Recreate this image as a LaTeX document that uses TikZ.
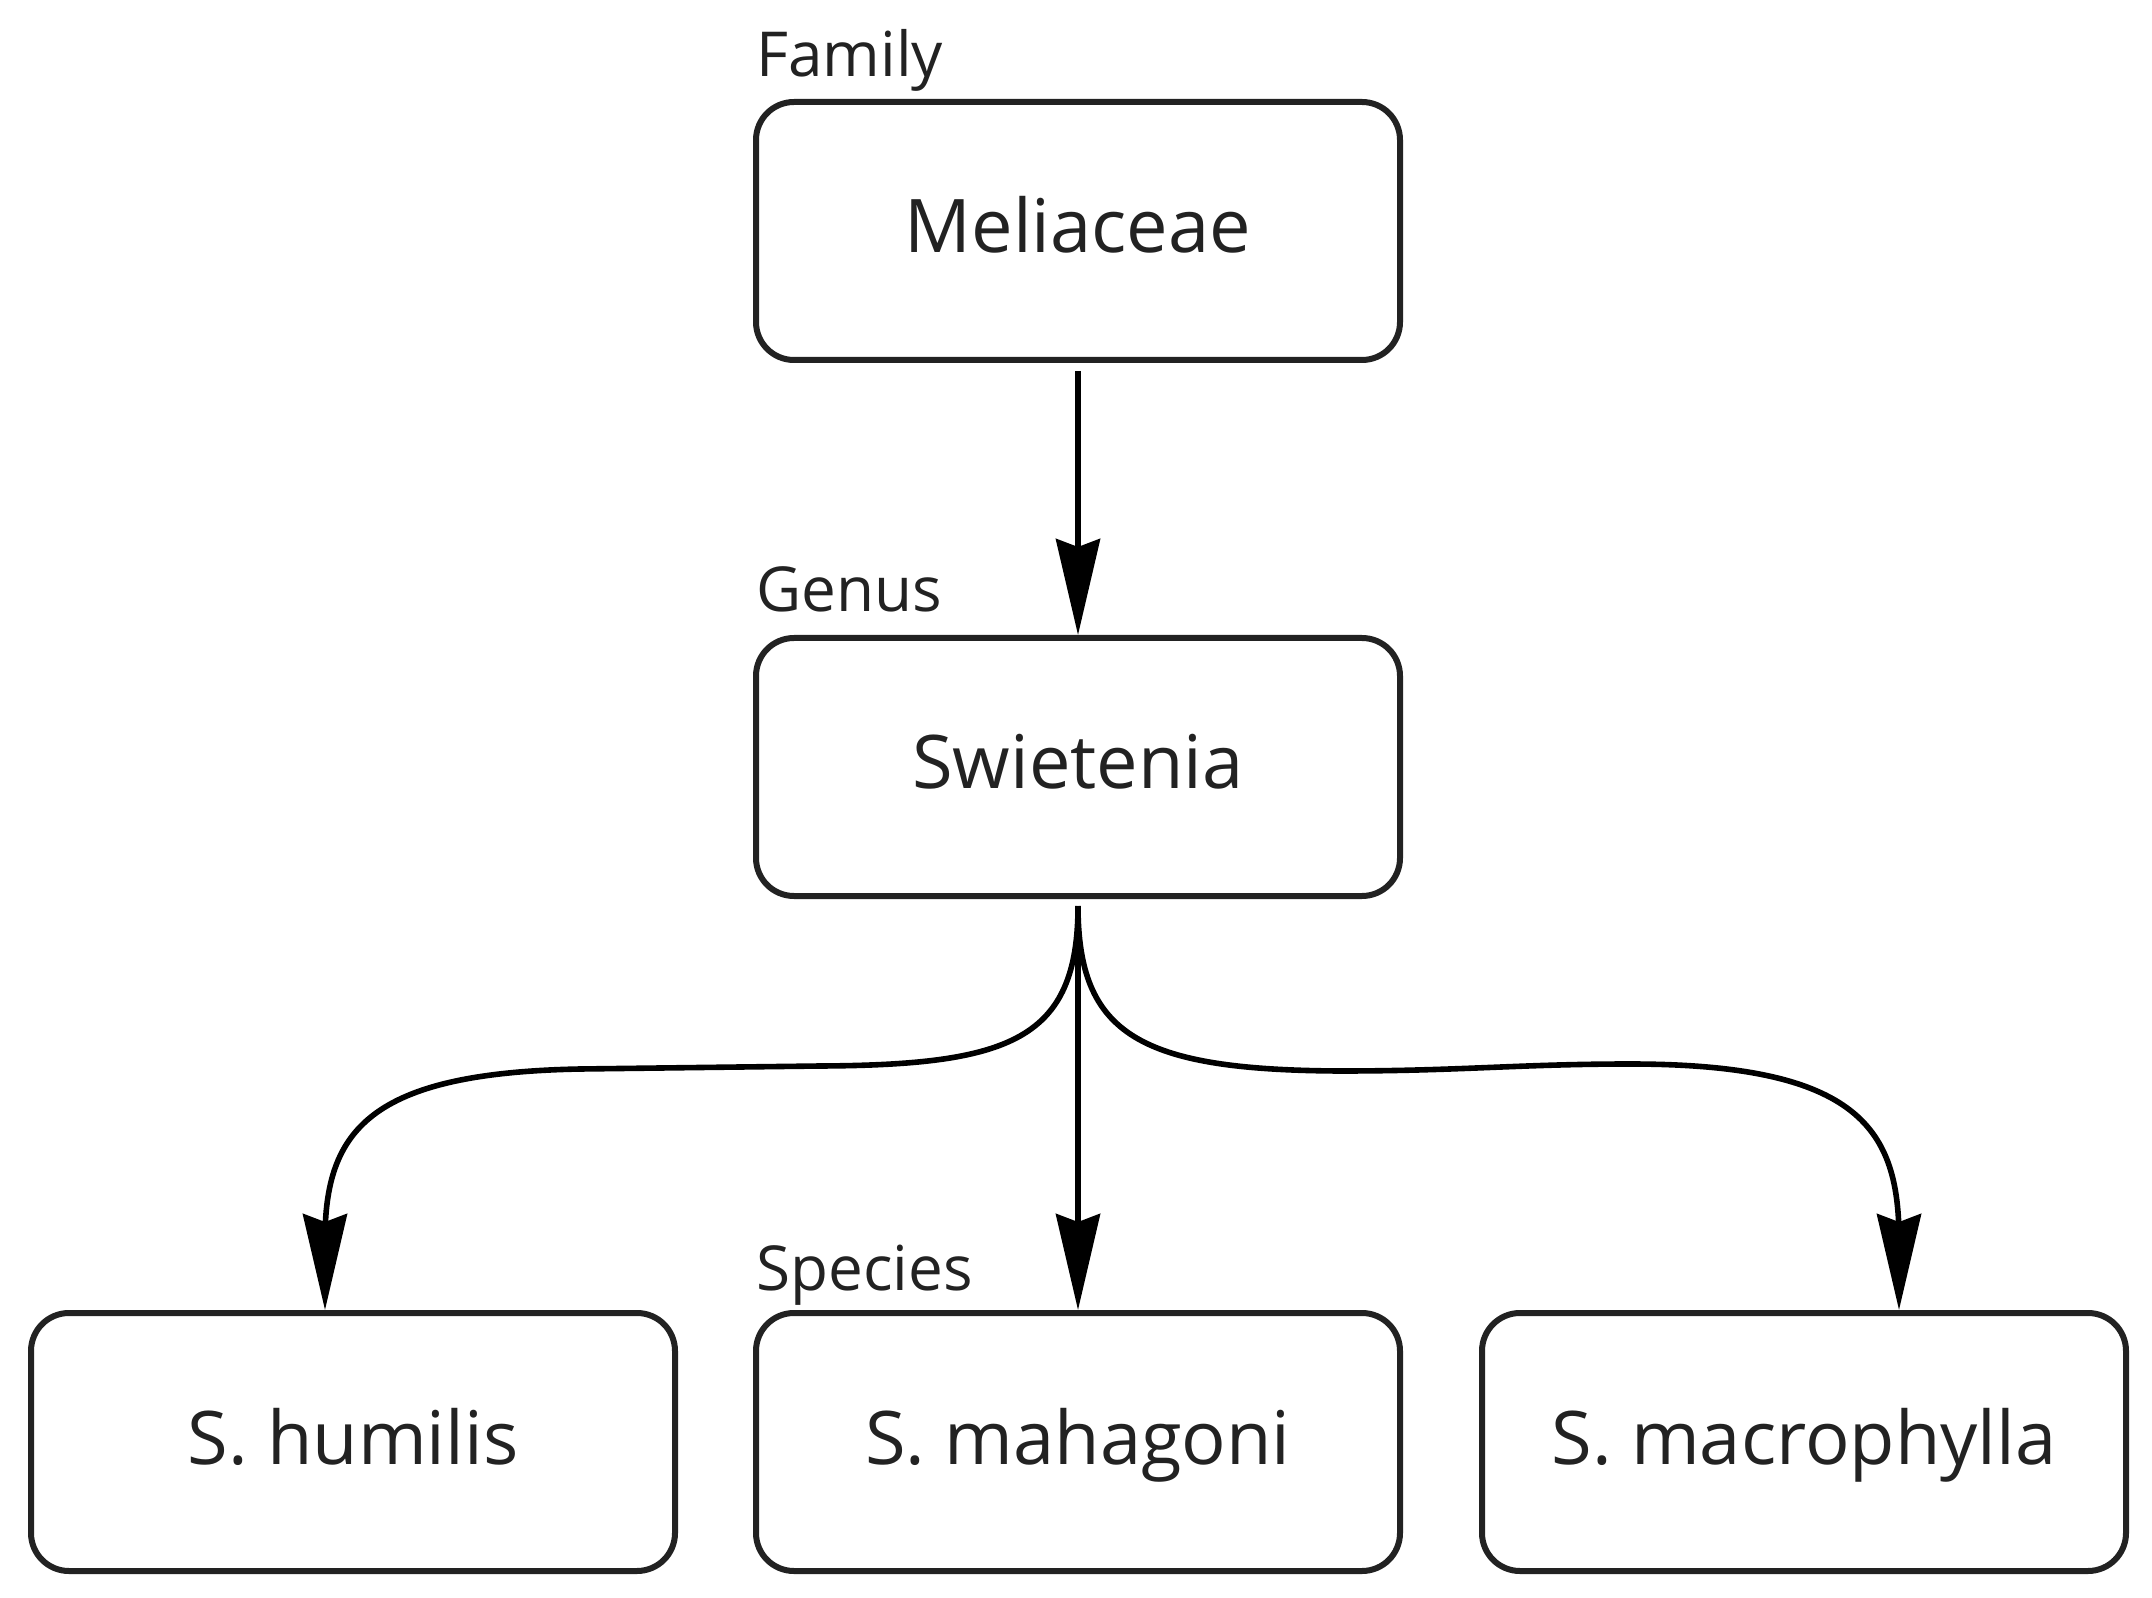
\documentclass[tikz,border=0pt]{standalone}
\usepackage{fontspec}
\setmainfont{Open Sans}
\usetikzlibrary{arrows.meta, calc}
\definecolor{inkgray}{HTML}{222222}

\begin{document}
\begin{tikzpicture}[
    x=0.5pt, y=-0.5pt,
    taxon/.style={draw=inkgray, line width=3pt, rectangle, rounded corners=19pt, minimum width=322pt, minimum height=129pt, align=center, text=inkgray, font=\fontsize{37}{44}\selectfont, text height=30pt, text depth=8pt},
    rank/.style={anchor=base west, inner sep=0pt, text=inkgray, font=\fontsize{31}{37}\selectfont},
    link/.style={draw=black, line width=2.8pt, -{Stealth[length=48pt, width=22pt, inset=4pt]}}
]
    \useasboundingbox (0,0) rectangle (2152,1598);

    % ================= FAMILY =================
    \node[rank] (famlbl) at (756,77) {Family};
    \node[taxon] (fam) at (1078,231) {Meliaceae};

    % ================= GENUS =================
    \node[rank] (genlbl) at (756,612) {Genus};
    \node[taxon] (gen) at (1078,767) {Swietenia};

    % ================= SPECIES =================
    \node[rank] (splbl) at (756,1290) {Species};
    \node[taxon] (shum) at (353,1442) {S. humilis};
    \node[taxon] (smah) at (1078,1442) {S. mahagoni};
    \node[taxon] (smac) at (1804,1442) {S. macrophylla};

    % arrow ends on the outer species boxes
    \coordinate (humIn) at ($(shum.north)+(-28,0)$);
    \coordinate (macIn) at ($(smac.north)+(95,0)$);

    % ================= CONNECTIONS =================
    \draw[link, shorten <=4pt] (fam) -- (gen);
    \draw[link, shorten <=3.5pt] (gen) -- (smah);
    \draw[link, shorten <=3.5pt] (gen.south) .. controls (1078,1040) and (1010,1065) .. (820,1066)
        -- (580,1069) .. controls (370,1073) and (325,1130) .. (325,1240) -- (humIn);
    \draw[link, shorten <=3.5pt] (gen.south) .. controls (1078,1035) and (1140,1070) .. (1340,1071)
        .. controls (1460,1071) and (1520,1064) .. (1630,1064)
        .. controls (1860,1064) and (1899,1130) .. (1899,1240) -- (macIn);

\end{tikzpicture}
\end{document}
